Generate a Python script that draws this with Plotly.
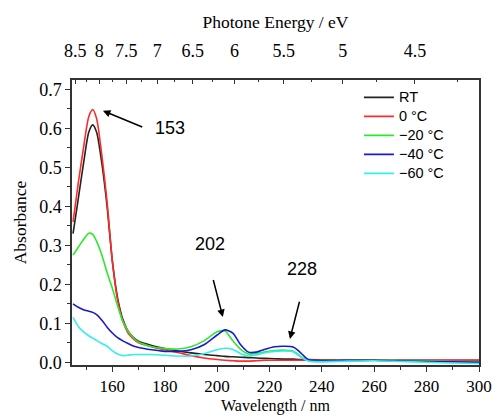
import plotly.graph_objects as go

wavelength = [145, 147, 149, 151, 152.5, 154, 156, 158, 160, 162, 164, 166, 168, 170,
              175, 180, 185, 190, 195, 200, 203, 206, 209, 212, 215, 218, 222, 226,
              229, 231, 233, 235, 240, 250, 260, 270, 280, 290, 300]

rt = [0.33, 0.42, 0.51, 0.59, 0.609, 0.59, 0.51, 0.40, 0.26, 0.165, 0.11, 0.08, 0.064, 0.054,
      0.043, 0.035, 0.029, 0.024, 0.020, 0.017, 0.015, 0.014, 0.013, 0.012, 0.011, 0.010, 0.009, 0.008,
      0.008, 0.007, 0.007, 0.007, 0.006, 0.005, 0.005, 0.005, 0.005, 0.005, 0.005]
c0 = [0.36, 0.46, 0.55, 0.63, 0.648, 0.625, 0.53, 0.41, 0.26, 0.16, 0.105, 0.075, 0.06, 0.05,
      0.04, 0.032, 0.025, 0.017, 0.011, 0.007, 0.005, 0.004, 0.003, 0.003, 0.004, 0.005, 0.005, 0.005,
      0.005, 0.005, 0.005, 0.005, 0.005, 0.005, 0.005, 0.005, 0.005, 0.005, 0.005]
m20 = [0.275, 0.295, 0.315, 0.331, 0.328, 0.31, 0.275, 0.23, 0.19, 0.145, 0.105, 0.08, 0.063, 0.052,
       0.04, 0.035, 0.034, 0.04, 0.055, 0.078, 0.080, 0.055, 0.033, 0.021, 0.022, 0.026, 0.030, 0.031,
       0.029, 0.020, 0.010, 0.005, 0.003, 0.004, 0.005, 0.004, 0.003, 0.002, 0.001]
m40 = [0.15, 0.141, 0.135, 0.131, 0.128, 0.122, 0.108, 0.09, 0.075, 0.063, 0.055, 0.048, 0.042, 0.038,
       0.032, 0.028, 0.028, 0.032, 0.045, 0.07, 0.083, 0.075, 0.045, 0.026, 0.026, 0.033, 0.040, 0.041,
       0.039, 0.030, 0.017, 0.006, 0.003, 0.005, 0.005, 0.003, 0.002, 0.001, 0.000]
m60 = [0.115, 0.092, 0.078, 0.068, 0.062, 0.056, 0.048, 0.041, 0.030, 0.021, 0.017, 0.018, 0.020, 0.020,
       0.020, 0.018, 0.016, 0.016, 0.022, 0.032, 0.036, 0.033, 0.022, 0.016, 0.019, 0.024, 0.028, 0.029,
       0.027, 0.018, 0.009, 0.003, 0.001, 0.003, 0.004, 0.002, 0.000, -0.002, -0.003]

series_names = ["RT", "0 °C", "−20 °C", "−40 °C", "−60 °C"]
series_values = [rt, c0, m20, m40, m60]
colors = ["#222222", "#ff2a2a", "#2ee82e", "#1a1acc", "#33eeee"]

energy_major = [8.5, 8, 7.5, 7, 6.5, 6, 5.5, 5, 4.5]
energy_labels = ["8.5", "8", "7.5", "7", "6.5", "6", "5.5", "5", "4.5"]
energy_minor = [8.25, 7.75, 7.25, 6.75, 6.25, 5.75, 5.25, 4.75, 4.25]
HC = 1239.84

xrange_ = [144.6, 300]
serif = "Liberation Serif"
sans = "Liberation Sans"
axcol = "#333333"

fig = go.Figure()
for name, vals, col in zip(series_names, series_values, colors):
    fig.add_trace(go.Scatter(x=wavelength, y=vals, mode="lines",
                             name='<span style="font-size:14.5px">' + name + '</span>',
                             line=dict(color=col, width=1.6, shape="spline", smoothing=0.7)))
# dummy trace for top axis
fig.add_trace(go.Scatter(x=xrange_, y=[None, None], xaxis="x2", showlegend=False, hoverinfo="skip"))

fig.update_layout(
    width=495, height=417,
    margin=dict(l=72, r=16, t=80, b=52),
    paper_bgcolor="white", plot_bgcolor="white",
    showlegend=True,
    legend=dict(x=0.705, y=0.99, xanchor="left", yanchor="top",
                font=dict(family=sans, size=12, color="black"),
                bgcolor="rgba(0,0,0,0)", tracegroupgap=0),
    xaxis=dict(range=xrange_, showgrid=False, zeroline=False, automargin=False,
               showline=True, linecolor=axcol, linewidth=1.5,
               ticks="outside", ticklen=5, tickwidth=1.2, tickcolor=axcol,
               tickvals=[160, 180, 200, 220, 240, 260, 280, 300],
               minor=dict(tickvals=[150, 170, 190, 210, 230, 250, 270, 290], ticks="outside",
                          ticklen=3, tickwidth=1, tickcolor=axcol),
               tickfont=dict(family=serif, size=17, color="black")),
    xaxis2=dict(range=xrange_, overlaying="x", side="top", showgrid=False, zeroline=False,
                automargin=False,
                showline=True, linecolor=axcol, linewidth=1.5,
                ticks="inside", ticklen=4, tickwidth=1.2, tickcolor=axcol,
                tickvals=[HC / e for e in energy_major], ticktext=energy_labels,
                ticklabelstandoff=14,
                minor=dict(tickvals=[HC / e for e in energy_minor], ticks="inside",
                           ticklen=2.5, tickwidth=1, tickcolor=axcol),
                tickfont=dict(family=serif, size=18, color="black"),
                title=dict(text="Photone Energy / eV", font=dict(family=serif, size=17.5, color="black"),
                           standoff=8)),
    yaxis=dict(range=[-0.007, 0.724], showgrid=False, zeroline=False, automargin=False,
               showline=True, mirror=True, linecolor=axcol, linewidth=1.5,
               ticks="outside", ticklen=5, tickwidth=1.2, tickcolor=axcol,
               tickvals=[0, 0.1, 0.2, 0.3, 0.4, 0.5, 0.6, 0.7], tickformat=".1f",
               minor=dict(tickvals=[0.05, 0.15, 0.25, 0.35, 0.45, 0.55, 0.65], ticks="outside",
                          ticklen=3, tickwidth=1, tickcolor=axcol),
               tickfont=dict(family=serif, size=18, color="black"),
               title=dict(text="Absorbance", font=dict(family=serif, size=17.5, color="black"),
                          standoff=8)),
)

# bottom axis title as paper annotation (keeps it clear of the tick labels)
fig.add_annotation(x=0.5, y=0, xref="paper", yref="paper", yshift=-41,
                   text="Wavelength / nm",
                   showarrow=False, xanchor="center", yanchor="middle", borderpad=0,
                   font=dict(family=serif, size=16, color="black"))

peak_labels = ["153", "202", "228"]
label_pos = [(182, 0.602), (197.3, 0.304), (232.4, 0.24)]
arrow_head = [(156.4, 0.645), (202.2, 0.116), (227.8, 0.060)]
arrow_tail = [(172.0, 0.602), (198.4, 0.215), (231.6, 0.159)]

for txt, (tx, ty), (hx, hy), (sx, sy) in zip(peak_labels, label_pos, arrow_head, arrow_tail):
    fig.add_annotation(x=tx, y=ty, text=txt, showarrow=False,
                       font=dict(family=sans, size=18, color="black"))
    fig.add_annotation(x=hx, y=hy, ax=sx, ay=sy, axref="x", ayref="y", text="",
                       showarrow=True, arrowhead=2, arrowsize=1, arrowwidth=1.5,
                       arrowcolor="black")

fig.write_html("out.html")
